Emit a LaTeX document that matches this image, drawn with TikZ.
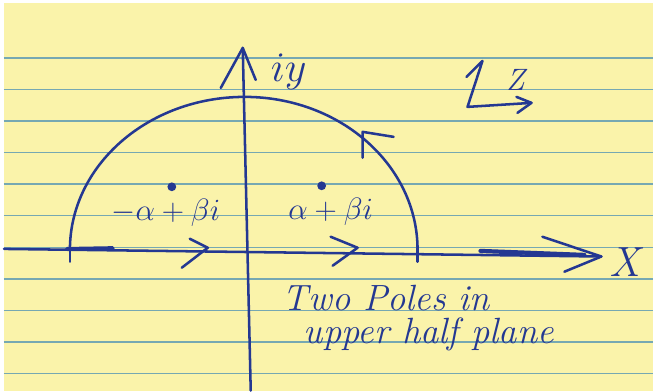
\RequirePackage{fix-cm}
\documentclass[tikz,border=0pt]{standalone}
\usepackage{amsmath}
\usepackage{xcolor}
\definecolor{ink}{RGB}{36,56,146}
\definecolor{paper}{RGB}{250,243,170}
\definecolor{paperline}{RGB}{118,168,178}

\begin{document}
\begin{tikzpicture}[scale=1,
        pen/.style={ink,line width=1.8pt,line cap=round,line join=round},
        hand/.style={ink,inner sep=0pt},
        pole/.style={circle,fill=ink,inner sep=0pt,minimum size=0.22cm}]
        % paper and ruled lines
        \fill[white] (-6.125,-3.525) rectangle (10.225,6.25);
        \fill[paper] (-6.025,-3.525) rectangle (10.225,6.175);
        \foreach \k in {0,...,10}{
            \pgfmathsetmacro{\yy}{4.8-0.79*\k}
            \draw[paperline,line width=1pt] (-6.025,\yy) -- (10.225,\yy);
        }
        % axes
        \coordinate (ybot) at (0.15,-3.525);
        \coordinate (ytop) at (-0.05,5.05);
        \coordinate (xleft) at (-6.025,0.02);
        \coordinate (xtip) at (8.925,-0.17);
        \draw[pen] (ybot) -- (ytop);
        \draw[pen] (-0.6,4.05) -- (ytop) -- (0.275,4.25);
        \draw[pen] (xleft) -- (xtip);
        \draw[ink,line width=3pt,line cap=round] (5.9,-0.03) -- (8.5,-0.13);
        \draw[pen] (7.45,0.325) -- (xtip) -- (8.0,-0.55);
        \node[hand,font=\fontsize{30}{34}\selectfont] (iy) at (1.1,4.45) {$iy$};
        \node[hand,font=\fontsize{30}{34}\selectfont\itshape] (xlab) at (9.5,-0.3) {X};
        % contour
        \coordinate (A) at (-4.375,0);
        \coordinate (B) at (4.325,0);
        \draw[pen] (A) arc[start angle=180,end angle=90,x radius=4.375,y radius=3.825]
            coordinate (T) arc[start angle=90,end angle=0,x radius=4.325,y radius=3.825];
        \draw[pen] ([yshift=0.25cm]A) -- ([yshift=-0.3cm]A);
        \draw[pen] ([yshift=0.05cm]B) -- ([yshift=-0.3cm]B);
        \draw[ink,line width=2.8pt,line cap=round] (-4.45,0.02) -- (-3.3,0.04);
        \draw[pen] (-1.375,0.275) -- (-0.925,0.05) -- (-1.575,-0.45);
        \draw[pen] (2.15,0.325) -- (2.825,0.05) -- (2.2,-0.4);
        \draw[pen] (3.725,2.825) -- (2.95,2.95) -- (2.95,2.3);
        % poles
        \node[pole] (poleL) at (-1.825,1.575) {};
        \node[pole] (poleR) at (1.925,1.6) {};
        \node[hand,font=\fontsize{22}{26}\selectfont] (labL) at (-1.975,0.925) {$-\alpha+\beta i$};
        \node[hand,font=\fontsize{22}{26}\selectfont] (labR) at (2.15,0.95) {$\alpha+\beta i$};
        % z plane mark
        \coordinate (zarm) at (5.55,4.325);
        \coordinate (ztop) at (5.95,4.725);
        \coordinate (zc) at (5.575,3.575);
        \coordinate (zright) at (7.175,3.675);
        \draw[pen] (zarm) -- (ztop) -- (zc) -- (zright);
        \draw[pen] (6.8,3.825) -- (zright) -- (6.825,3.425);
        \node[hand,font=\fontsize{22}{26}\selectfont\itshape] (zlab) at (6.775,4.25) {Z};
        % note
        \node[hand,anchor=west,font=\fontsize{26}{30}\selectfont\itshape] (note1) at (0.95,-1.2) {Two Poles in};
        \node[hand,anchor=west,font=\fontsize{26}{30}\selectfont\itshape] (note2) at (1.475,-2.125) {upper half plane};
    \end{tikzpicture}
\end{document}
